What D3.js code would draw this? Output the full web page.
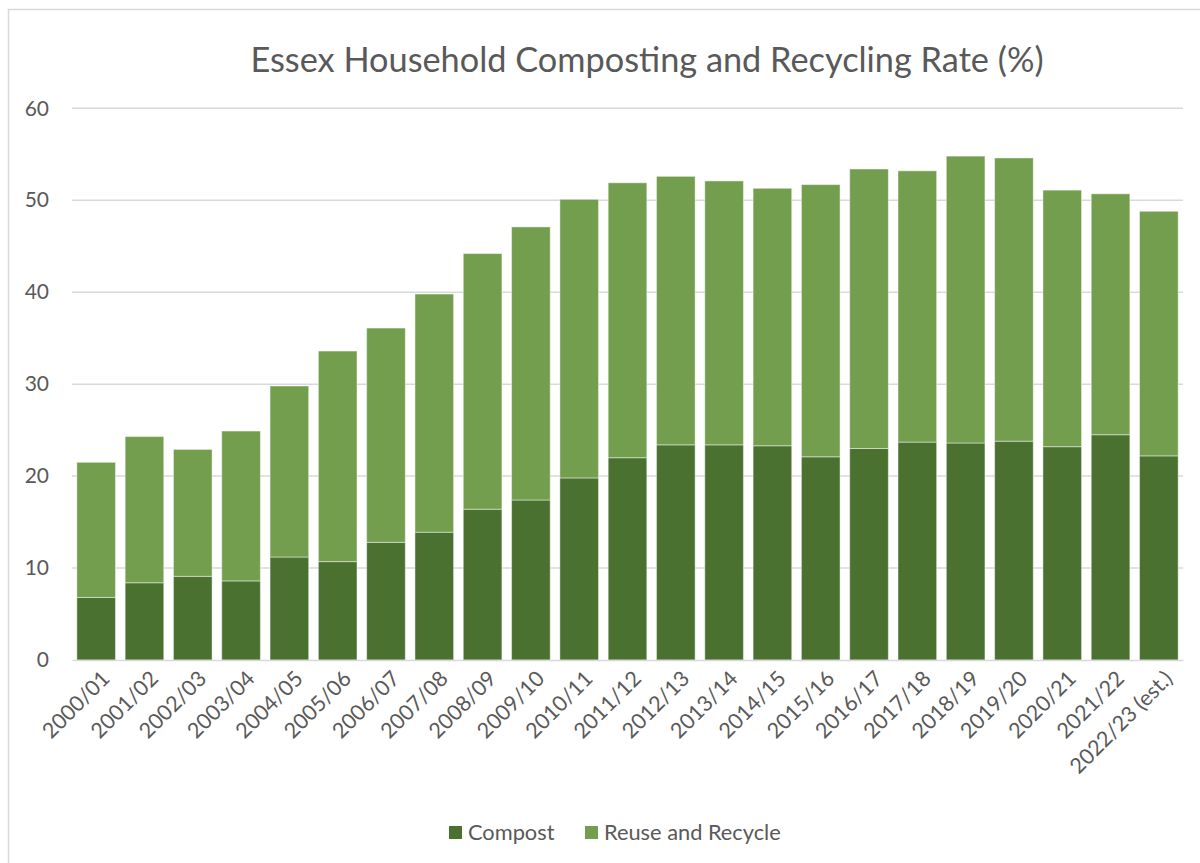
<!DOCTYPE html>
<html>
<head>
<meta charset="utf-8">
<script src="https://cdn.jsdelivr.net/npm/d3@7/dist/d3.min.js"></script>
<style>
  html, body { margin: 0; padding: 0; background: #fff; }
  svg { display: block; }
  text { font-family: Lato, "Open Sans", sans-serif; fill: #595959; }
</style>
</head>
<body>
<svg id="chart" width="1200" height="863"></svg>
<script>
const categories = ["2000/01","2001/02","2002/03","2003/04","2004/05","2005/06","2006/07","2007/08","2008/09","2009/10","2010/11","2011/12","2012/13","2013/14","2014/15","2015/16","2016/17","2017/18","2018/19","2019/20","2020/21","2021/22","2022/23 (est.)"];
const compost = [6.8,8.4,9.1,8.6,11.2,10.7,12.8,13.9,16.4,17.4,19.8,22.0,23.4,23.4,23.3,22.1,23.0,23.7,23.6,23.8,23.2,24.5,22.2];
const reuseRecycle = [14.7,15.9,13.8,16.3,18.6,22.9,23.3,25.9,27.8,29.7,30.3,29.9,29.2,28.7,28.0,29.6,30.4,29.5,31.2,30.8,27.9,26.2,26.6];
const seriesNames = ["Compost", "Reuse and Recycle"];
const seriesColors = ["#4b7131", "#739e4d"];
const yTicks = [0,10,20,30,40,50,60];
const title = "Essex Household Composting and Recycling Rate (%)";

const svg = d3.select("#chart");
const W = 1200, H = 863;
const m = {left: 72, right: 17, top: 108.3, bottom: 203};

// chart frame (Excel-style)
svg.append("rect").attr("x", 8.5).attr("y", 9.5).attr("width", 1300).attr("height", 1000)
  .attr("fill", "#fff").attr("stroke", "#d9d9d9").attr("stroke-width", 1.5);

const rows = categories.map((c, i) => ({cat: c, Compost: compost[i], "Reuse and Recycle": reuseRecycle[i]}));
const stacked = d3.stack().keys(seriesNames)(rows);

const x = d3.scaleBand().domain(categories).range([m.left, W - m.right]).paddingInner(0.2).paddingOuter(0.1);
const y = d3.scaleLinear().domain([0, 60]).range([H - m.bottom, m.top]);

// gridlines
svg.append("g").selectAll("line").data(yTicks.filter(d => d > 0)).join("line")
  .attr("x1", m.left).attr("x2", W - m.right)
  .attr("y1", d => y(d)).attr("y2", d => y(d))
  .attr("stroke", "#d9d9d9").attr("stroke-width", 1.5);

// y axis labels
const yAxis = d3.axisLeft(y).tickValues(yTicks).tickSize(0).tickPadding(23);
const yg = svg.append("g").attr("transform", `translate(${m.left},0)`).call(yAxis);
yg.select(".domain").remove();
yg.selectAll("text").attr("font-size", 21).style("font-family", "Lato").attr("fill", "#595959");

// bars
const color = d3.scaleOrdinal().domain(seriesNames).range(seriesColors);
svg.append("g").selectAll("g").data(stacked).join("g")
  .attr("fill", d => color(d.key))
  .selectAll("rect").data(d => d).join("rect")
  .attr("x", d => x(d.data.cat))
  .attr("width", x.bandwidth())
  .attr("y", d => y(d[1]))
  .attr("height", d => y(d[0]) - y(d[1]))
  .attr("stroke", "rgba(255,255,255,0.45)").attr("stroke-width", 1);

// x axis line
const xAxis = d3.axisBottom(x).tickSize(0).tickPadding(0);
const xg = svg.append("g").attr("transform", `translate(0,${H - m.bottom})`).call(xAxis);
xg.select(".domain").attr("stroke", "#d9d9d9").attr("stroke-width", 1.5);
xg.selectAll("text")
  .attr("font-size", 21.5).style("font-family", "Lato").attr("fill", "#595959")
  .attr("text-anchor", "end")
  .attr("dy", 0)
  .attr("transform", "translate(15,20) rotate(-45)");

// title
svg.append("text").attr("x", 647).attr("y", 72).attr("text-anchor", "middle")
  .attr("font-size", 34.3).text(title);

// legend
const legendItems = [{name: seriesNames[0], x: 449}, {name: seriesNames[1], x: 585}];
const lg = svg.append("g");
legendItems.forEach((it, i) => {
  lg.append("rect").attr("x", it.x).attr("y", 826).attr("width", 13).attr("height", 13).attr("fill", seriesColors[i]);
  lg.append("text").attr("x", it.x + 19).attr("y", 840).attr("font-size", 21.8).text(it.name);
});
</script>
</body>
</html>
